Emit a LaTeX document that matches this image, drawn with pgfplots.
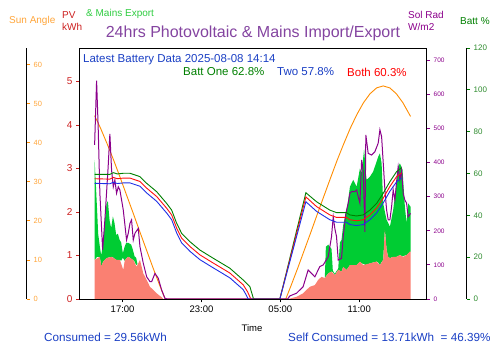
\documentclass[border=0pt]{standalone}
\usepackage{fontspec}
\setmainfont{Liberation Sans}
\usepackage{pgfplots}
\pgfplotsset{compat=1.18}
\usepgfplotslibrary{fillbetween}
\definecolor{sunor}{HTML}{FF8C00}
\definecolor{sunlab}{HTML}{FFA53A}
\definecolor{pvred}{HTML}{CC1F1F}
\definecolor{salmon}{HTML}{FA8072}
\definecolor{expgreen}{HTML}{00CC33}
\definecolor{exptext}{HTML}{2ECC40}
\definecolor{solpur}{HTML}{8B008B}
\definecolor{titlepur}{HTML}{8444A0}
\definecolor{battgreen}{HTML}{007F00}
\definecolor{battlab}{HTML}{2E8B2E}
\definecolor{bblue}{HTML}{1A3FC4}
\definecolor{lineblue}{HTML}{1F2FE6}
\definecolor{linered}{HTML}{FF1010}
\begin{document}
\begin{tikzpicture}
\pgfplotsset{
  main/.style={scale only axis, width=347.2pt, height=251pt, at={(79.5pt,54pt)}, anchor=south west, xmin=13.72, xmax=40.13},
  spine/.style={scale only axis, width=1pt, height=251pt, anchor=south west, xmin=0, xmax=1,
    axis x line=none, axis y line*=right, tick align=outside, major tick length=3.5pt,
    axis line style={black, line width=0.8pt, -}, /pgf/number format/assume math mode=true},
}
% ---------- main kWh axis with fills ----------
\begin{axis}[main, ymin=0, ymax=5.77, ytick={0,1,2,3,4,5},
  xtick={17,23,29,35}, xticklabels={17:00,23:00,05:00,11:00},
  xtick pos=bottom, ytick pos=left, tick align=outside, major tick length=3.5pt,
  yticklabel style={text=pvred, font=\fontsize{10}{12}\selectfont},
  xticklabel style={font=\fontsize{9.5}{11}\selectfont},
  ytick style={pvred, line width=0.8pt}, xtick style={black, line width=0.8pt},
  axis line style={black, line width=0.8pt}, /pgf/number format/assume math mode=true]
% export (green) left
\addplot[name path=gul, draw=none, forget plot] coordinates {
(14.87,3.2)(14.97,2.6)(15.05,2.1)(15.14,1.5)(15.27,1.2)(15.37,1.0)(15.52,1.3)(15.65,1.8)(15.78,2.2)(15.88,2.25)
(16.01,1.8)(16.13,1.63)(16.26,1.9)(16.38,1.75)(16.51,1.47)(16.64,1.5)(16.77,1.36)(16.89,1.3)(17.02,1.05)(17.15,1.2)
(17.27,1.29)(17.43,1.29)(17.56,1.27)(17.65,1.25)(17.78,1.13)(17.91,0.98)(18.03,0.95)(18.13,0.80)};
\addplot[name path=gll, draw=none, forget plot] coordinates {
(14.87,0.90)(14.97,0.93)(15.05,0.97)(15.14,0.97)(15.27,0.97)(15.37,0.75)(15.52,0.86)(15.65,0.90)(15.78,0.94)(15.88,0.95)
(16.01,0.96)(16.13,0.97)(16.26,0.96)(16.38,0.93)(16.51,0.90)(16.64,0.90)(16.77,0.90)(16.89,0.88)(17.02,0.95)(17.15,0.88)
(17.27,0.93)(17.43,0.97)(17.56,0.95)(17.65,0.92)(17.78,0.90)(17.91,0.86)(18.03,0.78)(18.13,0.80)};
\addplot[expgreen, draw=none] fill between[of=gul and gll];
% export (green) right
\addplot[name path=gur, draw=none, forget plot] coordinates {
(32.38,0.48)(32.46,1.2)(32.64,1.25)(32.76,1.2)(32.89,1.15)(32.99,0.65)(33.14,0.58)(33.40,0.7)(33.53,1.3)(33.65,1.36)
(33.78,1.70)(34.03,2.05)(34.16,2.28)(34.29,2.58)(34.54,2.74)(34.80,2.58)(35.05,3.0)(35.18,2.89)(35.37,3.45)(35.50,2.9)
(35.56,2.74)(35.81,2.81)(36.06,2.93)(36.32,3.16)(36.44,3.27)(36.57,3.35)(36.70,3.12)(36.82,2.2)(36.95,2.0)(37.08,1.82)
(37.20,1.75)(37.33,1.66)(37.58,2.05)(37.84,2.66)(37.96,3.04)(38.09,3.12)(38.29,2.97)(38.47,2.12)(38.60,1.74)(38.72,2.2)(38.90,2.12)};
\addplot[name path=glr, draw=none, forget plot] coordinates {
(32.38,0.48)(32.46,0.52)(32.64,0.59)(32.76,0.61)(32.89,0.63)(32.99,0.62)(33.14,0.55)(33.40,0.67)(33.53,0.65)(33.65,0.63)
(33.78,0.74)(34.03,0.67)(34.16,0.72)(34.29,0.78)(34.54,0.78)(34.80,0.78)(35.05,0.86)(35.18,0.82)(35.37,0.80)(35.50,0.78)
(35.56,0.78)(35.81,0.82)(36.06,0.84)(36.32,0.86)(36.44,0.84)(36.57,0.78)(36.70,0.85)(36.82,0.9)(36.95,1.59)(37.08,1.13)
(37.20,0.97)(37.33,0.94)(37.58,0.97)(37.84,0.97)(37.96,0.99)(38.09,1.01)(38.29,0.98)(38.47,1.0)(38.60,1.01)(38.72,1.05)(38.90,1.09)};
\addplot[expgreen, draw=none] fill between[of=gur and glr];
% PV (salmon)
\addplot[fill=salmon, draw=none] coordinates {
(14.87,0.90)(15.27,0.97)(15.37,0.75)(15.52,0.86)(15.78,0.94)(16.16,0.97)(16.54,0.90)(16.79,0.90)(17.05,0.67)(17.17,0.90)
(17.43,0.97)(17.81,0.90)(18.06,0.74)(18.32,0.90)(18.57,0.59)(18.83,0.44)(19.08,0.28)(19.33,0.21)(19.59,0.13)(19.97,0.04)(20.09,0)} \closedcycle;
\addplot[fill=salmon, draw=none] coordinates {
(29.59,0)(30.23,0.05)(30.73,0.13)(30.99,0.21)(31.24,0.28)(31.62,0.32)(31.88,0.44)(32.13,0.51)(32.38,0.48)(32.64,0.59)
(32.89,0.63)(33.14,0.55)(33.40,0.67)(33.65,0.63)(33.78,0.74)(34.03,0.67)(34.29,0.78)(34.80,0.78)(35.05,0.86)(35.30,0.78)
(35.81,0.82)(36.32,0.86)(36.57,0.78)(36.82,0.90)(36.95,1.59)(37.08,1.13)(37.20,0.97)(37.33,0.94)(37.58,0.97)(37.84,0.97)
(38.09,1.01)(38.34,0.97)(38.60,1.01)(38.85,1.09)(38.90,1.09)} \closedcycle;
\end{axis}
% ---------- sun angle data ----------
\begin{axis}[main, ymin=0, ymax=64.2, hide axis]
\addplot[sunor, line width=0.9pt] coordinates {
(14.87,46.9)(15.32,43.7)(15.82,39.7)(16.32,35.5)(16.82,31.0)(17.32,26.4)(17.82,21.8)(18.32,17.1)(18.82,12.5)(19.32,7.9)
(19.82,3.5)(20.23,0)(29.41,0)(29.82,3.5)(30.32,7.9)(30.82,12.5)(31.32,17.1)(31.82,21.8)(32.32,26.4)(32.82,31.0)
(33.32,35.5)(33.82,39.7)(34.32,43.7)(34.82,47.2)(35.32,50.2)(35.82,52.5)(36.32,54.0)(36.82,54.5)(37.32,54.0)(37.82,52.5)
(38.32,50.2)(38.90,46.7)};
\end{axis}
\begin{axis}[spine, at={(25.7pt,54pt)}, ymin=0, ymax=64.2, ytick={0,10,20,30,40,50,60},
  ytick style={sunor, line width=0.8pt}, yticklabel style={text=sunlab, font=\fontsize{7.5}{9}\selectfont}]
\end{axis}
% ---------- solar radiation ----------
\begin{axis}[main, ymin=0, ymax=736, axis x line=none, axis y line*=right, ytick={0,100,200,300,400,500,600,700},
  tick align=outside, major tick length=3.5pt, ytick style={solpur, line width=0.8pt},
  yticklabel style={text=solpur, font=\fontsize{6.5}{8}\selectfont},
  axis line style={black, line width=0.8pt, -}, /pgf/number format/assume math mode=true]
\addplot[solpur, line width=1pt] coordinates {
(14.87,452)(15.02,640)(15.14,505)(15.27,310)(15.48,144)(15.65,232)(15.90,388)(16.03,484)(16.16,378)(16.29,329)
(16.41,349)(16.54,310)(16.67,329)(16.79,320)(17.05,261)(17.30,173)(17.43,193)(17.56,222)(17.68,232)(17.81,173)
(17.94,193)(18.19,207)(18.32,153)(18.57,105)(18.83,65)(19.08,51)(19.21,51)(19.46,75)(19.71,61)(19.97,26)
(20.22,2)(20.40,0)(29.55,0)(29.72,9)(30.23,17)(30.73,36)(31.11,85)(31.37,75)(31.62,65)(32.00,95)
(32.26,100)(32.64,124)(32.89,183)(33.02,241)(33.14,207)(33.27,183)(33.40,114)(33.65,119)(33.78,183)(33.98,251)
(34.16,281)(34.29,310)(34.42,315)(34.67,315)(34.80,320)(34.92,300)(35.05,281)(35.18,408)(35.30,378)(35.43,197)
(35.50,481)(35.68,427)(35.94,422)(36.19,432)(36.44,457)(36.57,496)(36.70,476)(36.95,320)(37.08,261)(37.20,232)
(37.33,232)(37.46,271)(37.58,320)(37.71,290)(37.84,344)(37.96,388)(38.09,349)(38.22,378)(38.34,310)(38.47,290)
(38.60,281)(38.72,241)(38.90,251)};
\end{axis}
% ---------- battery ----------
\begin{axis}[main, ymin=0, ymax=120, hide axis]
\addplot[battgreen, line width=0.9pt] coordinates {
(14.87,59.6)(16.03,59.6)(16.29,60.4)(16.60,59.8)(17.05,60.1)(17.56,60.1)(18.32,58.5)(18.83,55.3)(19.59,51.3)(20.35,45.7)
(20.73,42.5)(21.11,36.2)(21.49,31.4)(22.12,27.4)(22.88,23.4)(23.89,19.5)(25.16,14.7)(26.17,9.1)(26.68,5.9)(26.93,0.6)
(27.00,0)(28.96,0)(30.94,50.8)(31.75,46.5)(32.76,42.5)(33.27,41.3)(34.03,41.3)(34.28,40.2)(34.79,39.7)(35.30,40.2)
(35.81,42.5)(36.32,45.7)(36.82,50.5)(37.33,56.1)(37.84,60.9)(38.22,62.8)};
\addplot[linered, line width=0.9pt] coordinates {
(14.87,57.5)(16.03,57.3)(16.29,58.1)(16.60,57.5)(17.05,57.8)(17.56,57.8)(18.32,56.2)(18.83,53.0)(19.59,49.0)(20.35,43.4)
(20.73,40.2)(21.11,33.9)(21.49,29.1)(22.12,25.1)(22.88,21.1)(23.89,17.2)(25.16,12.4)(26.17,6.8)(26.50,3.5)(26.75,0)
(28.96,0)(30.94,48.8)(31.75,44.2)(32.76,40.2)(33.27,39.0)(34.03,39.0)(34.28,37.9)(34.79,37.4)(35.30,37.9)(35.81,40.2)
(36.32,43.4)(36.82,48.2)(37.33,53.8)(37.84,58.5)(38.22,60.3)};
\addplot[lineblue, line width=0.9pt] coordinates {
(14.87,55.3)(16.03,55.1)(16.29,55.8)(16.60,55.2)(17.05,55.5)(17.56,55.5)(18.32,53.9)(18.83,50.7)(19.59,46.7)(20.35,41.1)
(20.73,37.9)(21.11,31.6)(21.49,26.8)(22.12,22.8)(22.88,18.8)(23.89,14.9)(25.16,10.1)(26.17,4.5)(26.35,2.5)(26.55,0)
(28.96,0)(30.94,46.5)(31.75,41.9)(32.76,37.9)(33.27,36.7)(34.03,36.7)(34.28,35.6)(34.79,35.1)(35.30,35.6)(35.81,37.9)
(36.32,41.1)(36.82,45.9)(37.33,51.5)(37.84,56.0)(38.22,57.8)};
\end{axis}
\begin{axis}[spine, at={(465.7pt,54pt)}, ymin=0, ymax=120, ytick={0,20,40,60,80,100,120},
  ytick style={battgreen, line width=0.8pt}, yticklabel style={text=battlab, font=\fontsize{8}{10}\selectfont}]
\end{axis}
% ---------- texts ----------
\node[anchor=center, text=titlepur, font=\fontsize{16}{19}\selectfont] at (253pt,320pt) {24hrs Photovoltaic \& Mains Import/Export};
\node[anchor=west, text=sunlab, font=\fontsize{10}{12}\selectfont, inner sep=0pt] at (9pt,332pt) {Sun Angle};
\node[anchor=west, text=pvred, font=\fontsize{10}{12}\selectfont, inner sep=0pt] at (62pt,338pt) {PV};
\node[anchor=west, text=pvred, font=\fontsize{10}{12}\selectfont, inner sep=0pt] at (62pt,326pt) {kWh};
\node[anchor=west, text=exptext, font=\fontsize{10}{12}\selectfont, inner sep=0pt] at (86pt,339pt) {\& Mains Export};
\node[anchor=west, text=solpur, font=\fontsize{10}{12}\selectfont, inner sep=0pt] at (408pt,338pt) {Sol Rad};
\node[anchor=west, text=solpur, font=\fontsize{10}{12}\selectfont, inner sep=0pt] at (408pt,326pt) {W/m2};
\node[anchor=west, text=battgreen, font=\fontsize{10}{12}\selectfont, inner sep=0pt] at (460pt,332pt) {Batt \%};
\node[anchor=west, text=bblue, font=\fontsize{11.5}{13}\selectfont, inner sep=0pt] at (83pt,293pt) {Latest Battery Data 2025-08-08 14:14};
\node[anchor=west, text=battgreen, font=\fontsize{11.5}{13}\selectfont, inner sep=0pt] at (183pt,281pt) {Batt One 62.8\%};
\node[anchor=west, text=bblue, font=\fontsize{11.5}{13}\selectfont, inner sep=0pt] at (277pt,281pt) {Two 57.8\%};
\node[anchor=west, text=red, font=\fontsize{11.5}{13}\selectfont, inner sep=0pt] at (347pt,281pt) {Both 60.3\%};
\node[anchor=center, text=black, font=\fontsize{9.5}{11}\selectfont, inner sep=0pt] at (252pt,25pt) {Time};
\node[anchor=west, text=bblue, font=\fontsize{11.7}{13}\selectfont, inner sep=0pt] at (44pt,16pt) {Consumed = 29.56kWh};
\node[anchor=west, text=bblue, font=\fontsize{11.7}{13}\selectfont, inner sep=0pt] at (288pt,16pt) {Self Consumed = 13.71kWh\ \ = 46.39\%};
\pgfresetboundingbox
\path[use as bounding box] (0,0) rectangle (500pt,353pt);
\end{tikzpicture}
\end{document}
